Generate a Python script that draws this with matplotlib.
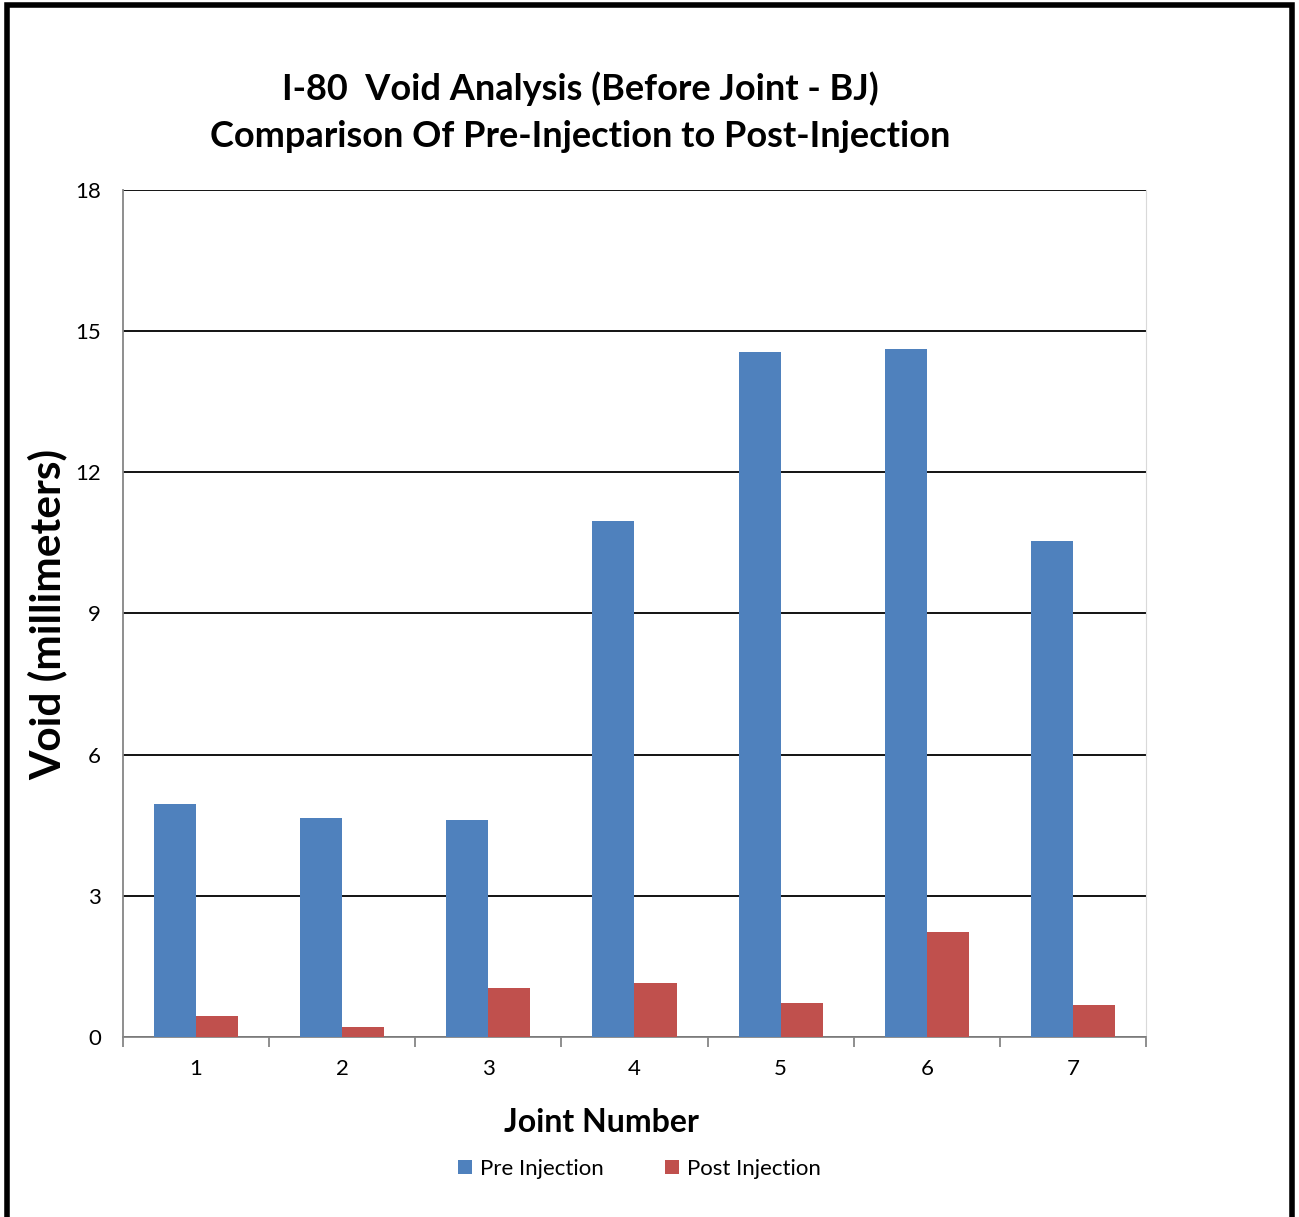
import numpy as np
import matplotlib
matplotlib.use('Agg')
import matplotlib.pyplot as plt
from matplotlib.patches import Rectangle

plt.rcParams['font.family'] = ['Lato', 'DejaVu Sans']

joints = ['1', '2', '3', '4', '5', '6', '7']
preInjection = [4.95, 4.65, 4.61, 10.96, 14.56, 14.62, 10.54]
postInjection = [0.45, 0.21, 1.04, 1.15, 0.72, 2.23, 0.68]
yTicks = [0, 3, 6, 9, 12, 15, 18]

fig = plt.figure(figsize=(12.99, 12.17), dpi=100)
ax = fig.add_axes([0.0947, 0.1479, 0.7875, 0.696])

x = np.arange(1, len(joints) + 1)
w = 0.288
ax.bar(x - w/2, preInjection, w, color='#4F81BD', label='Pre Injection', zorder=3)
ax.bar(x + w/2, postInjection, w, color='#C0504D', label='Post Injection', zorder=3)

ax.set_xlim(0.5, len(joints) + 0.5)
ax.set_ylim(0, 18)
ax.set_yticks(yTicks)
ax.set_yticklabels([str(t) for t in yTicks], fontsize=16)
ax.yaxis.grid(True, color='black', linewidth=1.3, zorder=0)
ax.tick_params(axis='y', length=0, pad=16)

# category boundaries get the tick marks, centres get the labels
ax.set_xticks(np.arange(0.5, len(joints) + 1, 1))
ax.set_xticklabels([])
ax.set_xticks(x, minor=True)
ax.set_xticklabels(joints, minor=True, fontsize=16)
ax.tick_params(axis='x', which='major', length=7, color='#868686', width=1.3)
ax.tick_params(axis='x', which='minor', length=0, pad=16)

ax.spines['top'].set_visible(False)
ax.spines['left'].set_color('#868686')
ax.spines['bottom'].set_color('#868686')
ax.spines['left'].set_linewidth(1.3)
ax.spines['bottom'].set_linewidth(1.3)
ax.spines['right'].set_color('#d9d9d9')

fig.text(0.4465, 0.908, 'I-80  Void Analysis (Before Joint - BJ)\nComparison Of Pre-Injection to Post-Injection',
         ha='center', va='center', fontsize=26, fontweight='bold', linespacing=1.5)
fig.text(0.037, 0.4955, 'Void (millimeters)', rotation=90, ha='center', va='center',
         fontsize=30.5, fontweight='bold')
fig.text(0.4627, 0.0775, 'Joint Number', ha='center', va='center', fontsize=23, fontweight='bold')

fig.legend(loc='center', bbox_to_anchor=(0.4925, 0.0395), ncol=2, frameon=False, fontsize=16,
           handlelength=0.6, handleheight=0.6, handletextpad=0.4, columnspacing=2.75)

fig.patches.append(Rectangle((0.0054, -0.05), 0.9892, 1.0455, transform=fig.transFigure,
                             fill=False, edgecolor='black', linewidth=4, clip_on=False))

fig.savefig('out.png', dpi=100)
